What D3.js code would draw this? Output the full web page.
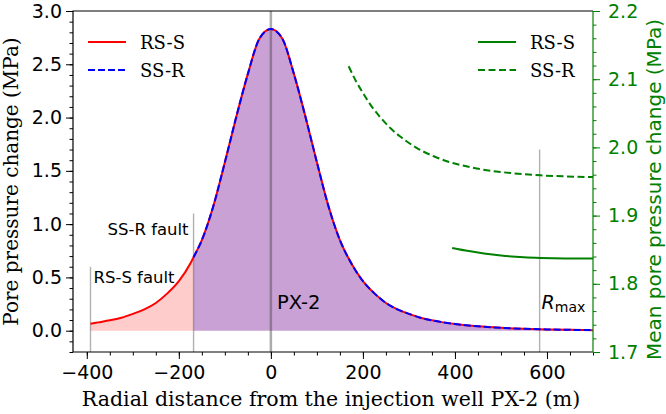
<!DOCTYPE html>
<html>
<head>
<meta charset="utf-8">
<script src="https://cdn.jsdelivr.net/npm/d3@7"></script>
<style>
body { margin: 0; background: #fff; }
svg { display: block; }
.tick text { font-family: "DejaVu Sans"; font-size: 19px; }
</style>
</head>
<body>
<svg width="666" height="414"></svg>
<script>
// pore pressure change along the profile (MPa)
const dist = [-392, -375, -350, -325, -300, -275, -250, -225, -200, -175, -168, -150, -125, -100, -75, -50, -25, 0,
    25, 50, 75, 100, 125, 150, 175, 200, 225, 250, 275, 300, 325, 350, 375, 400, 450, 500, 550, 600, 650, 700];
const pressure = [0.065, 0.078, 0.097, 0.122, 0.158, 0.2, 0.26, 0.35, 0.465, 0.63, 0.69, 0.85, 1.17, 1.58, 2.01, 2.41, 2.74, 2.83,
    2.74, 2.41, 2.01, 1.58, 1.17, 0.85, 0.63, 0.465, 0.35, 0.26, 0.2, 0.158, 0.122, 0.097, 0.078, 0.063, 0.041, 0.027, 0.018, 0.012, 0.008, 0.005];

// mean pore pressure change (right axis)
const meanSsrDist = [169, 185, 200, 220, 238, 260, 282, 320, 354, 390, 427, 460, 499, 550, 586, 640, 700];
const meanSsr = [2.119, 2.097, 2.080, 2.059, 2.044, 2.028, 2.0155, 1.998, 1.987, 1.978, 1.972, 1.9675, 1.964, 1.9606, 1.959, 1.9575, 1.9565];
const meanRssDist = [394, 430, 463, 500, 550, 586, 640, 700];
const meanRss = [1.8526, 1.848, 1.8445, 1.8415, 1.839, 1.838, 1.8372, 1.837];

// fault / marker lines
const faults = [
    { name: "RS-S fault", x: -392, top: 0.6 },
    { name: "SS-R fault", x: -168, top: 1.1 },
    { name: "Rmax", x: 584, top: 1.7 }
];
const wellX = 0;

const xTicks = [-400, -200, 0, 200, 400, 600];
const yTicks = [0, 0.5, 1, 1.5, 2, 2.5, 3];
const y2Ticks = [1.7, 1.8, 1.9, 2.0, 2.1, 2.2];

const margin = { top: 11, right: 73, bottom: 62, left: 73 };
const width = 666 - margin.left - margin.right;
const height = 414 - margin.top - margin.bottom;

const x = d3.scaleLinear([-430, 700], [0, width]);
const y = d3.scaleLinear([-0.2, 3.0], [height, 0]);
const y2 = d3.scaleLinear([1.7, 2.2], [height, 0]);

const svg = d3.select("svg");
const g = svg.append("g").attr("transform", `translate(${margin.left},${margin.top})`);

const pts = dist.map((d, i) => ({ x: d, v: pressure[i] }));
const ssrPts = pts.filter(d => d.x >= -168);
const rsOnly = pts.filter(d => d.x <= -168);

const area = d3.area().x(d => x(d.x)).y0(y(0)).y1(d => y(d.v)).curve(d3.curveMonotoneX);
const line = d3.line().x(d => x(d.x)).y(d => y(d.v)).curve(d3.curveMonotoneX);

g.append("path").attr("d", area(rsOnly)).attr("fill", "#ffcccc");
g.append("path").attr("d", area(ssrPts)).attr("fill", "#c9a1d5");

// vertical markers
g.append("line")
    .attr("x1", x(wellX)).attr("x2", x(wellX))
    .attr("y1", 0).attr("y2", height)
    .attr("stroke", "#444").attr("stroke-opacity", 0.45).attr("stroke-width", 2.5);

g.selectAll(".fault")
    .data(faults)
    .enter()
    .append("line")
    .attr("x1", d => x(d.x)).attr("x2", d => x(d.x))
    .attr("y1", d => y(d.top)).attr("y2", height)
    .attr("stroke", "#444").attr("stroke-opacity", 0.42).attr("stroke-width", 1.4);

// green mean curves
const line2 = (xs, vs) => d3.line().x(d => x(d)).y((d, i) => y2(vs[i])).curve(d3.curveMonotoneX)(xs);
g.append("path").attr("d", line2(meanSsrDist, meanSsr))
    .attr("fill", "none").attr("stroke", "green").attr("stroke-width", 2).attr("stroke-dasharray", "7,3.5");
g.append("path").attr("d", line2(meanRssDist, meanRss))
    .attr("fill", "none").attr("stroke", "green").attr("stroke-width", 2);

// pressure curves
g.append("path").attr("d", line(pts))
    .attr("fill", "none").attr("stroke", "red").attr("stroke-width", 2);
g.append("path").attr("d", line(ssrPts))
    .attr("fill", "none").attr("stroke", "blue").attr("stroke-width", 2).attr("stroke-dasharray", "7,3");

// labels
const sans = "DejaVu Sans";
g.append("text").attr("x", x(-392) + 3).attr("y", y(0.45))
    .attr("font-family", sans).attr("font-size", 16.5).text("RS-S fault");
g.append("text").attr("x", x(-168) - 5).attr("y", y(0.9)).attr("text-anchor", "end")
    .attr("font-family", sans).attr("font-size", 16.5).text("SS-R fault");
g.append("text").attr("x", x(wellX) + 6).attr("y", y(0.2))
    .attr("font-family", sans).attr("font-size", 19.5).text("PX-2");
const rmax = g.append("text").attr("x", x(584) + 2).attr("y", y(0.2))
    .attr("font-family", sans).attr("font-size", 19);
rmax.append("tspan").attr("font-style", "italic").text("R");
rmax.append("tspan").attr("font-size", 14).attr("dy", 3).text("max");

// axes
const major = 7, minor = 3.5;
const styleAxis = (sel, color) => {
    sel.select(".domain").remove();
    sel.selectAll("line").attr("stroke", color);
    sel.selectAll("text").attr("fill", color);
};

g.append("g").attr("transform", `translate(0,${height})`)
    .call(d3.axisBottom(x).tickValues(d3.range(-400, 701, 50)).tickSize(minor).tickFormat(""))
    .call(s => styleAxis(s, "#000"));
g.append("g").attr("transform", `translate(0,${height})`)
    .call(d3.axisBottom(x).tickValues(xTicks).tickSize(major).tickPadding(7).tickFormat(d3.format("d")))
    .call(s => styleAxis(s, "#000"));

g.append("g")
    .call(d3.axisLeft(y).tickValues(d3.range(-2, 31).map(d => d / 10)).tickSize(minor).tickFormat(""))
    .call(s => styleAxis(s, "#000"));
g.append("g")
    .call(d3.axisLeft(y).tickValues(yTicks).tickSize(major).tickPadding(4).tickFormat(d3.format(".1f")))
    .call(s => styleAxis(s, "#000"));

g.append("g").attr("transform", `translate(${width},0)`)
    .call(d3.axisRight(y2).tickValues(d3.range(85, 111).map(d => d / 50)).tickSize(minor).tickFormat(""))
    .call(s => styleAxis(s, "green"));
g.append("g").attr("transform", `translate(${width},0)`)
    .call(d3.axisRight(y2).tickValues(y2Ticks).tickSize(major).tickPadding(8).tickFormat(d3.format(".1f")))
    .call(s => styleAxis(s, "green"));

// spines
g.append("path").attr("d", `M0,${height}V0H${width}`).attr("fill", "none").attr("stroke", "#000").attr("stroke-width", 1.2);
g.append("line").attr("x1", 0).attr("x2", width).attr("y1", height).attr("y2", height).attr("stroke", "#000").attr("stroke-width", 1.2);
g.append("line").attr("x1", width).attr("x2", width).attr("y1", 0).attr("y2", height).attr("stroke", "green").attr("stroke-width", 1.2);

// axis titles
const serif = "DejaVu Serif";
svg.append("text").attr("x", margin.left + width / 2 - 2).attr("y", 406)
    .attr("text-anchor", "middle").attr("font-family", serif).attr("font-size", 20.5)
    .text("Radial distance from the injection well PX-2 (m)");
svg.append("text").attr("transform", `translate(18,${margin.top + height / 2}) rotate(-90)`)
    .attr("text-anchor", "middle").attr("font-family", serif).attr("font-size", 20)
    .text("Pore pressure change (MPa)");
svg.append("text").attr("transform", `translate(661,${margin.top + height / 2 + 8}) rotate(-90)`)
    .attr("text-anchor", "middle").attr("font-family", sans).attr("font-size", 20)
    .attr("fill", "green")
    .text("Mean pore pressure change (MPa)");

// legends
const legendLeft = [
    { label: "RS-S", color: "red", dash: null },
    { label: "SS-R", color: "blue", dash: "7,3" }
];
const legendRight = [
    { label: "RS-S", color: "green", dash: null },
    { label: "SS-R", color: "green", dash: "7,3.5" }
];
const drawLegend = (items, x0) => {
    const lg = svg.append("g").attr("transform", `translate(${x0},42)`);
    const row = lg.selectAll("g").data(items).enter().append("g")
        .attr("transform", (d, i) => `translate(0,${i * 28})`);
    row.append("line").attr("x1", 0).attr("x2", 38)
        .attr("stroke", d => d.color).attr("stroke-width", 2)
        .attr("stroke-dasharray", d => d.dash);
    row.append("text").attr("x", 52).attr("y", 6.5)
        .attr("font-family", serif).attr("font-size", 18).text(d => d.label);
};
drawLegend(legendLeft, 88);
drawLegend(legendRight, 478);
</script>
</body>
</html>
